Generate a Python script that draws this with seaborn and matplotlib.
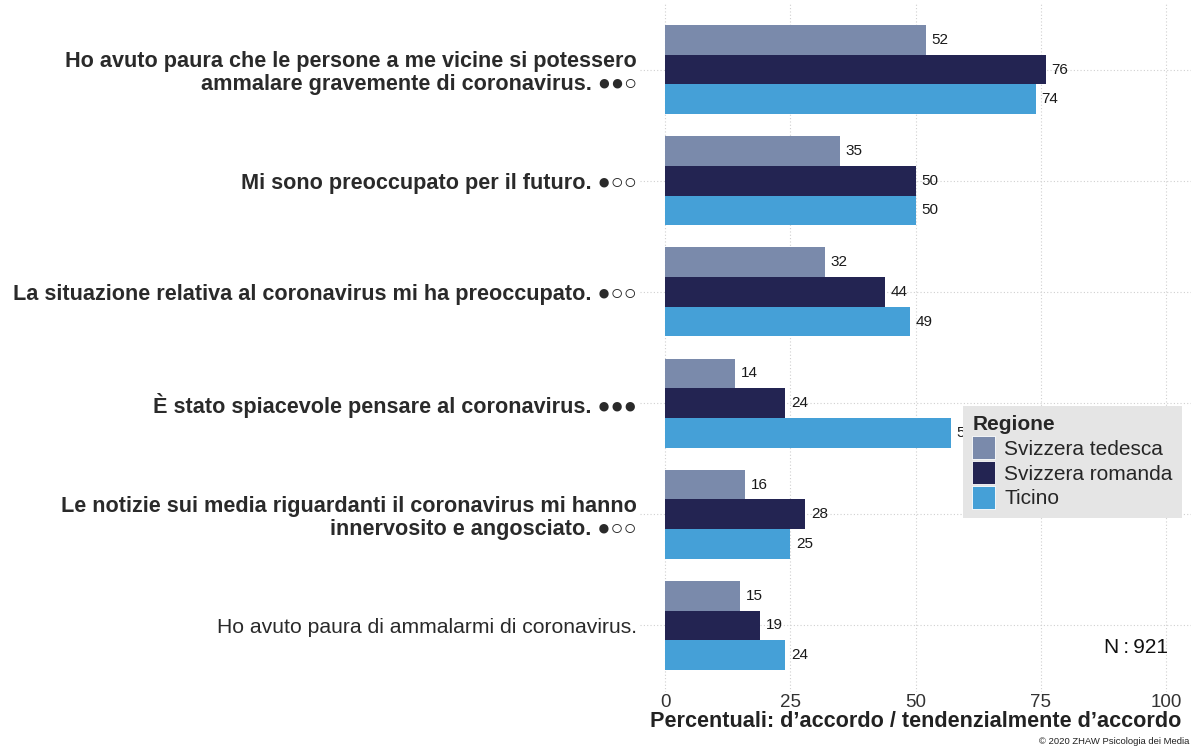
import matplotlib
matplotlib.use("Agg")
import matplotlib.pyplot as plt
import pandas as pd
import seaborn as sns

# Survey items (top to bottom), with their significance marks
items = [
    "Ho avuto paura che le persone a me vicine si potessero\nammalare gravemente di coronavirus. ●●○",
    "Mi sono preoccupato per il futuro. ●○○",
    "La situazione relativa al coronavirus mi ha preoccupato. ●○○",
    "È stato spiacevole pensare al coronavirus. ●●●",
    "Le notizie sui media riguardanti il coronavirus mi hanno\ninnervosito e angosciato. ●○○",
    "Ho avuto paura di ammalarmi di coronavirus.",
]
bold_items = [True, True, True, True, True, False]

regions = ["Svizzera tedesca", "Svizzera romanda", "Ticino"]

# Percent agreeing / tending to agree, per region
svizzera_tedesca = [52, 35, 32, 14, 16, 15]
svizzera_romanda = [76, 50, 44, 24, 28, 19]
ticino = [74, 50, 49, 57, 25, 24]

colors = ["#7A8AAB", "#232452", "#45A0D7"]

x_ticks = [0, 25, 50, 75, 100]
x_label = "Percentuali: d’accordo / tendenzialmente d’accordo"
n_text = "N\u2009:\u2009921"
credit = "© 2020 ZHAW Psicologia dei Media"

rows = []
for series, name in zip([svizzera_tedesca, svizzera_romanda, ticino], regions):
    for item, v in zip(items, series):
        rows.append({"item": item, "Regione": name, "value": v})
df = pd.DataFrame(rows)

sns.set_theme(style="white")
plt.rcParams["font.family"] = ["Liberation Sans", "DejaVu Sans"]

W, H = 1192, 747
fig = plt.figure(figsize=(W / 100, H / 100), dpi=100)
ax = fig.add_axes([640 / W, (H - 692) / H, 551 / W, 689 / H])

sns.barplot(
    data=df, x="value", y="item", hue="Regione", order=items, hue_order=regions,
    palette=colors, orient="h", width=0.8, linewidth=0, saturation=1, ax=ax,
    errorbar=None, zorder=2,
)

for cont in ax.containers:
    ax.bar_label(cont, fmt="%d", padding=4, fontsize=11, color="#1a1a1a")

ax.set_xlim(-5, 105)
ax.set_ylim(len(items) - 0.4, -0.6)
ax.set_xticks(x_ticks)
ax.set_xticklabels([str(t) for t in x_ticks], fontsize=13.5, color="#333333")
ax.tick_params(axis="x", length=0, pad=1.5)
ax.tick_params(axis="y", length=0, pad=2)
for lab, b in zip(ax.get_yticklabels(), bold_items):
    lab.set_fontsize(15.6 if b else 15.2)
    lab.set_color("#2a2a2a")
    lab.set_fontweight("bold" if b else "normal")
    lab.set_multialignment("right")
    lab.set_linespacing(1.12)

for s in ax.spines.values():
    s.set_visible(False)
ax.grid(True, axis="both", linestyle=(0, (1, 2)), color="#d0d0d0", linewidth=0.8, zorder=0)
ax.set_axisbelow(True)

ax.set_ylabel("")
ax.set_xlabel(x_label, fontsize=15.6, fontweight="bold", color="#222222", labelpad=0)

ax.text(100.4, 5.2, n_text, ha="right", va="center", fontsize=15, color="#111111")

leg = ax.legend(
    title="Regione", loc="upper left", bbox_to_anchor=(963 / W, 1 - 406 / H),
    bbox_transform=fig.transFigure, borderaxespad=0, frameon=True, fancybox=False,
    facecolor="#E5E5E5", edgecolor="none", framealpha=1,
    fontsize=15, title_fontproperties={"weight": "bold", "size": 15},
    handlelength=1.08, handleheight=1.3, labelspacing=0.1, handletextpad=0.45,
    borderpad=0.45, alignment="left",
)
for h in leg.legend_handles:
    h.set_edgecolor("white")
    h.set_linewidth(0.6)

fig.text(1189 / W, 1 - 746 / H, credit, ha="right", va="bottom", fontsize=6.8, color="#222222")

fig.savefig("out.png", dpi=100)
